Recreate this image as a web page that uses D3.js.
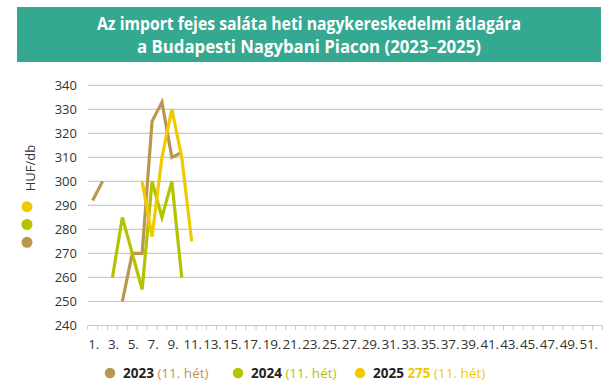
<!DOCTYPE html>
<html>
<head>
<meta charset="utf-8">
<script src="https://cdn.jsdelivr.net/npm/d3@7"></script>
<style>
  body { margin: 0; background: #fff; }
  svg { display: block; font-family: "Open Sans", sans-serif; }
</style>
</head>
<body>
<svg id="chart" width="613" height="382"></svg>
<script>
// weekly averages, HUF/db (null = no quote that week)
const weeks = d3.range(1, 53);
const tickWeeks = d3.range(1, 53, 2);
const yTicks = d3.range(240, 341, 10);
const prices2023 = [292, 300, null, 250, 270, 270, 325, 333, 310, 312];
const prices2024 = [null, null, 260, 285, 270, 255, 300, 285, 300, 260];
const prices2025 = [null, null, null, null, null, 300, 277, 310, 330, 310, 275];
const seriesNames = ["2023", "2024", "2025"];
const seriesColors = ["#b9974f", "#b3c300", "#f1c900"];

const svg = d3.select("svg#chart");

// title banner
svg.append("rect")
  .attr("x", 17).attr("y", 7)
  .attr("width", 584).attr("height", 55)
  .attr("fill", "#34a890");
const title = svg.append("g")
  .attr("fill", "#fff")
  .style("font-weight", "bold")
  .style("font-size", "18px");
title.append("text")
  .attr("x", 309).attr("y", 30)
  .attr("text-anchor", "middle")
  .attr("textLength", 424).attr("lengthAdjust", "spacingAndGlyphs")
  .text("Az import fejes saláta heti nagykereskedelmi átlagára");
title.append("text")
  .attr("x", 309).attr("y", 53)
  .attr("text-anchor", "middle")
  .attr("textLength", 344).attr("lengthAdjust", "spacingAndGlyphs")
  .text("a Budapesti Nagybani Piacon (2023–2025)");

const x = d3.scaleBand().domain(weeks).range([87.7, 602.5]);
const y = d3.scaleLinear().domain([240, 340]).range([325.5, 85.3]);

// gridlines
svg.append("g")
  .selectAll("line")
  .data(yTicks.slice(1))
  .join("line")
  .attr("x1", 88).attr("x2", 603)
  .attr("y1", (d) => y(d)).attr("y2", (d) => y(d))
  .attr("stroke", "#c8c8c8")
  .attr("stroke-width", 1.2);

// y labels
svg.append("g")
  .selectAll("text")
  .data(yTicks)
  .join("text")
  .attr("x", 77)
  .attr("y", (d) => y(d) + 4.5)
  .attr("text-anchor", "end")
  .attr("fill", "#333")
  .style("font-size", "13px")
  .text((d) => d);

// x axis line + ticks at week boundaries
const xAxis = svg.append("g").attr("transform", `translate(0, ${y(240)})`);
xAxis.append("line")
  .attr("x1", x.range()[0]).attr("x2", x.range()[1])
  .attr("stroke", "#c8c8c8").attr("stroke-width", 1.2);
xAxis.selectAll("line.tick")
  .data(weeks.concat([53]))
  .join("line")
  .attr("class", "tick")
  .attr("x1", (d) => x.range()[0] + (d - 1) * x.step())
  .attr("x2", (d) => x.range()[0] + (d - 1) * x.step())
  .attr("y1", 0).attr("y2", 4.5)
  .attr("stroke", "#c8c8c8").attr("stroke-width", 1);
xAxis.selectAll("text")
  .data(tickWeeks)
  .join("text")
  .attr("x", (d) => x(d) + x.bandwidth() / 2 + 1)
  .attr("y", 23)
  .attr("text-anchor", "middle")
  .attr("fill", "#333")
  .style("font-size", "13.5px")
  .style("letter-spacing", "-0.2px")
  .text((d) => d + ".");

// lines
const line = d3.line()
  .defined((d) => d != null)
  .x((d, i) => x(weeks[i]) + x.bandwidth() / 2)
  .y((d) => y(d));

[prices2023, prices2024, prices2025].forEach((vals, i) => {
  svg.append("path")
    .datum(vals)
    .attr("d", line)
    .attr("fill", "none")
    .attr("stroke", seriesColors[i])
    .attr("stroke-width", 3.2)
    .attr("stroke-linejoin", "miter");
});

// left side unit and dots
svg.append("text")
  .attr("transform", "translate(35, 168) rotate(-90)")
  .attr("text-anchor", "middle")
  .attr("fill", "#333")
  .style("font-size", "13px")
  .text("HUF/db");
svg.append("g")
  .selectAll("circle")
  .data([2, 1, 0])
  .join("circle")
  .attr("cx", 27)
  .attr("cy", (d, i) => 206.7 + i * 17.8)
  .attr("r", 5.5)
  .attr("fill", (d) => seriesColors[d]);

// bottom legend
const legendX = [110, 238, 360];
const legend = svg.append("g")
  .selectAll("g")
  .data(seriesNames)
  .join("g")
  .attr("transform", (d, i) => `translate(${legendX[i]}, 0)`);
legend.append("circle")
  .attr("cx", 0).attr("cy", 373).attr("r", 5.2)
  .attr("fill", (d, i) => seriesColors[i]);
const legendText = legend.append("text")
  .attr("x", 13).attr("y", 378)
  .style("font-size", "13.5px");
legendText.append("tspan")
  .attr("fill", "#222")
  .style("font-weight", "bold")
  .text((d) => d + " ");
legendText.filter((d) => d == "2025")
  .append("tspan")
  .attr("fill", seriesColors[2])
  .style("font-weight", "bold")
  .text(prices2025[10] + " ");
legendText.append("tspan")
  .attr("fill", (d, i) => seriesColors[i])
  .text("(11. hét)");
</script>
</body>
</html>
